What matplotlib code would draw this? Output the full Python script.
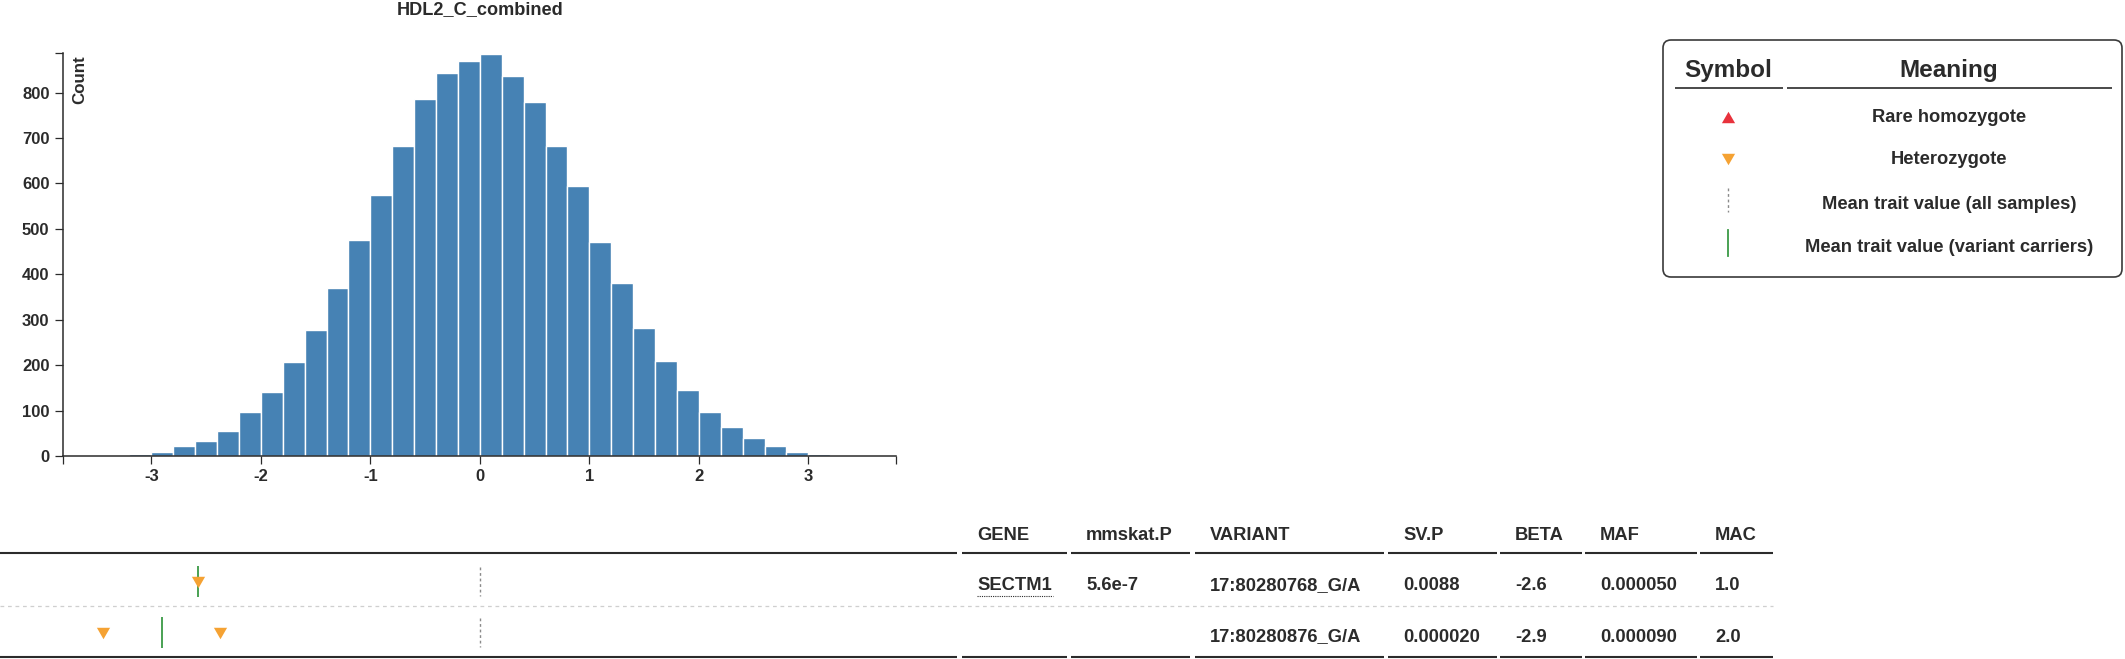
import numpy as np
import matplotlib
matplotlib.use("Agg")
import matplotlib.pyplot as plt
from matplotlib.patches import FancyBboxPatch

# ---------------- data ----------------
title = "HDL2_C_combined"
y_label = "Count"
bin_lefts = [-3.2, -3.0, -2.8, -2.6, -2.4, -2.2, -2.0, -1.8, -1.6, -1.4, -1.2, -1.0,
             -0.8, -0.6, -0.4, -0.2, 0.0, 0.2, 0.4, 0.6, 0.8, 1.0, 1.2, 1.4,
             1.6, 1.8, 2.0, 2.2, 2.4, 2.6, 2.8, 3.0]
bin_width = 0.2
counts = [5, 8, 21, 32, 56, 96, 141, 206, 277, 369, 476, 574,
          683, 785, 843, 870, 886, 836, 779, 683, 594, 472, 382, 281,
          209, 145, 96, 63, 39, 22, 8, 5]
x_ticks = [-3, -2, -1, 0, 1, 2, 3]
y_ticks = [0, 100, 200, 300, 400, 500, 600, 700, 800]
x_domain = [-3.81, 3.80]
y_max = 888

all_samples_mean = 0.0
het_values = [[-2.57], [-3.44, -2.37]]      # heterozygote carriers per variant
hom_values = [[], []]                         # rare homozygotes per variant

table_headers = ["GENE", "mmskat.P", "VARIANT", "SV.P", "BETA", "MAF", "MAC"]
gene = ["SECTM1", ""]
mmskat_p = ["5.6e-7", ""]
variant = ["17:80280768_G/A", "17:80280876_G/A"]
sv_p = ["0.0088", "0.000020"]
beta = ["-2.6", "-2.9"]
maf = ["0.000050", "0.000090"]
mac = ["1.0", "2.0"]

legend_headers = ["Symbol", "Meaning"]
legend_meanings = ["Rare homozygote", "Heterozygote",
                   "Mean trait value (all samples)", "Mean trait value (variant carriers)"]

# ---------------- style ----------------
W, H = 2125, 659
TXT = "#2b2b2b"
BAR = "#4682b4"
ORANGE = "#f5a233"
RED = "#e8323c"
GREEN = "#3a9a45"
GRAY = "#8a8a8a"

plt.rcParams["font.family"] = ["Liberation Sans", "DejaVu Sans"]
plt.rcParams["font.weight"] = "bold"

fig = plt.figure(figsize=(W / 100, H / 100), dpi=100)


def rect(x0, y0, x1, y1):
    return [x0 / W, 1 - y1 / H, (x1 - x0) / W, (y1 - y0) / H]


up_tri = [(-1, -0.866), (1, -0.866), (0, 0.866)]
down_tri = [(-1, 0.866), (1, 0.866), (0, -0.866)]

# ---------------- histogram ----------------
hx0, hx1, hy0, hy1 = 62.7, 896.0, 52.7, 456.0
ax = fig.add_axes(rect(hx0, hy0, hx1, hy1))
ax.bar(bin_lefts, counts, width=bin_width, align="edge", color=BAR,
       edgecolor="white", linewidth=1.0, zorder=2)
ax.set_xlim(*x_domain)
ax.set_ylim(0, y_max)
ax.patch.set_visible(False)
for s in ["top", "right"]:
    ax.spines[s].set_visible(False)
for s in ["left", "bottom"]:
    ax.spines[s].set_color(TXT)
    ax.spines[s].set_linewidth(1.1)
    ax.spines[s].set_zorder(3)
ax.set_xticks(x_ticks)
ax.set_xticklabels([str(t) for t in x_ticks])
ax.set_yticks(y_ticks)
ax.set_yticklabels([str(t) for t in y_ticks])
ax.set_xticks(x_domain, minor=True)
ax.set_yticks([y_max], minor=True)
ax.tick_params(which="both", length=6, width=0.9, color=TXT)
ax.tick_params(which="major", labelsize=12, labelcolor=TXT, pad=3.5)

# ---------------- variant track ----------------
tx0, tx1, ty0, ty1 = 0.0, 957.0, 553.0, 657.0
scale = (hx1 - hx0) / (x_domain[1] - x_domain[0])
t_xlim = (x_domain[0] - (hx0 - tx0) / scale, x_domain[1] + (tx1 - hx1) / scale)
ax2 = fig.add_axes(rect(tx0, ty0, tx1, ty1))
ax2.set_xlim(*t_xlim)
ax2.set_ylim(1.471, -0.569)
ax2.axis("off")
for i in range(len(variant)):
    carriers = het_values[i] + hom_values[i]
    ax2.vlines(all_samples_mean, i - 0.29, i + 0.27, color=GRAY, lw=1.0,
               linestyles=(0, (2, 2)))
    ax2.vlines(np.mean(carriers), i - 0.31, i + 0.30, color=GREEN, lw=1.3)
    if het_values[i]:
        ax2.plot(het_values[i], [i] * len(het_values[i]), linestyle="none",
                 marker=down_tri, ms=9.5, color=ORANGE, mew=0)
    if hom_values[i]:
        ax2.plot(hom_values[i], [i] * len(hom_values[i]), linestyle="none",
                 marker=up_tri, ms=9.5, color=RED, mew=0)

# ---------------- overlay (text, table, legend) ----------------
ov = fig.add_axes([0, 0, 1, 1])
ov.set_xlim(0, W)
ov.set_ylim(H, 0)
ov.axis("off")
ov.patch.set_visible(False)

ov.text(480.5, 14, title, ha="center", va="baseline", fontsize=13.1,
        color=TXT, fontweight="bold")
ov.text(84.5, 55, y_label, rotation=90, rotation_mode="anchor", ha="right",
        va="baseline", fontsize=12.2, color=TXT, fontweight="bold")

# table
col_spans = [(0, 957), (962, 1067), (1071, 1190), (1195, 1384),
             (1388, 1497), (1500, 1582), (1585, 1697), (1700, 1773)]
for a, b in col_spans:
    ov.plot([a, b], [553, 553], color=TXT, lw=1.5, solid_capstyle="butt")
    ov.plot([a, b], [656.8, 656.8], color=TXT, lw=1.5, solid_capstyle="butt")
ov.plot([0, 1773], [606, 606], color="#cfcfcf", lw=0.9, ls=(0, (3, 3)))

text_x = [a + 15 for a, b in col_spans[1:]]
for x, h in zip(text_x, table_headers):
    ov.text(x, 540.5, h, ha="left", va="baseline", fontsize=13.2, color=TXT,
            fontweight="bold")
rows = list(zip(gene, mmskat_p, variant, sv_p, beta, maf, mac))
row_base = [590, 641.5]
for r, yb in zip(rows, row_base):
    for x, v in zip(text_x, r):
        if v:
            ov.text(x, yb, v, ha="left", va="baseline", fontsize=13.2,
                    color=TXT, fontweight="bold")
ov.plot([977, 1053], [595.5, 595.5], color=TXT, lw=0.8, ls=(0, (1, 1)))

# legend
box = FancyBboxPatch((1663, 40), 459, 237,
                     boxstyle="round,pad=0,rounding_size=8",
                     fc="white", ec="#3a3a3a", lw=1.2)
ov.add_patch(box)
ov.text(1728, 76.7, legend_headers[0], ha="center", va="baseline",
        fontsize=17.5, color=TXT, fontweight="bold")
ov.text(1949, 76.7, legend_headers[1], ha="center", va="baseline",
        fontsize=17.5, color=TXT, fontweight="bold")
ov.plot([1675, 1783], [88, 88], color=TXT, lw=1.2, solid_capstyle="butt")
ov.plot([1787, 2112], [88, 88], color=TXT, lw=1.2, solid_capstyle="butt")

ov.plot([1728], [116.7], linestyle="none", marker=up_tri, ms=9.5, color=RED, mew=0)
ov.plot([1728], [158.5], linestyle="none", marker=down_tri, ms=9.5, color=ORANGE, mew=0)
ov.plot([1728, 1728], [188, 212], color=GRAY, lw=1.0, ls=(0, (2, 2)))
ov.plot([1728, 1728], [230, 256], color=GREEN, lw=1.3)

leg_base = [121.5, 164.3, 209, 251.5]
for yb, m in zip(leg_base, legend_meanings):
    ov.text(1949, yb, m, ha="center", va="baseline", fontsize=13.2,
            color=TXT, fontweight="bold")

fig.savefig("out.png", dpi=100, facecolor="white")
